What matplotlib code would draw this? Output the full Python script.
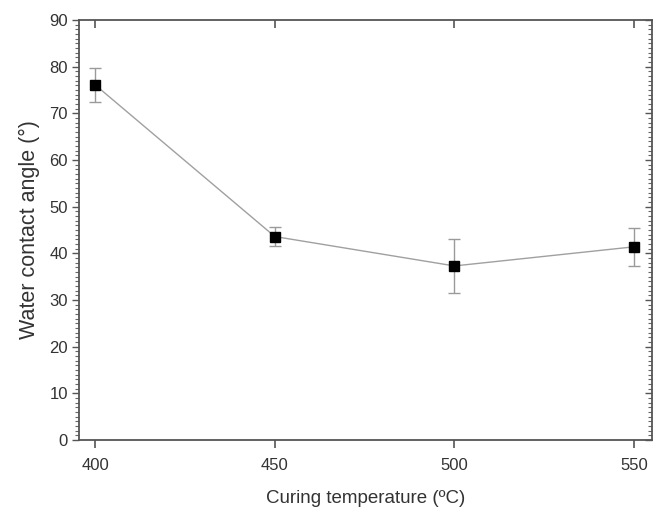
import matplotlib
matplotlib.use("Agg")
import matplotlib.pyplot as plt
from matplotlib.ticker import MultipleLocator

temperature = [400, 450, 500, 550]
contact_angle = [76.1, 43.6, 37.3, 41.4]
angle_error = [3.6, 2.0, 5.8, 4.1]
x_ticks = [400, 450, 500, 550]
y_ticks = [0, 10, 20, 30, 40, 50, 60, 70, 80, 90]

plt.rcParams['font.family'] = ['Liberation Sans', 'DejaVu Sans']

fig = plt.figure(figsize=(6.55, 5.16), dpi=100)
ax = fig.add_axes([0.1206, 0.1473, 0.8748, 0.8139])

ax.errorbar(temperature, contact_angle, yerr=angle_error, color='#a0a0a0', lw=1.0,
            ecolor='#9a9a9a', elinewidth=1.0, capsize=4, capthick=1.0,
            marker='s', markersize=7, markerfacecolor='black', markeredgecolor='black', zorder=3)

ax.set_xlim(395.5, 555)
ax.set_ylim(0, 90)
ax.set_xticks(x_ticks)
ax.set_yticks(y_ticks)
ax.yaxis.set_minor_locator(MultipleLocator(1))

for s in ax.spines.values():
    s.set_color('#555555')
    s.set_linewidth(1.3)

# bottom / left outward, top / right inward
ax.tick_params(axis='x', which='major', bottom=True, top=False, direction='out', length=6,
               width=1.2, color='#555555', labelsize=12, pad=7)
ax.tick_params(axis='y', which='major', left=True, right=False, direction='out', length=5,
               width=1.0, color='#555555', labelsize=12, pad=3)
ax.tick_params(axis='y', which='minor', left=True, right=False, direction='out', length=3,
               width=0.8, color='#666666')
ax.tick_params(axis='x', which='minor', bottom=False, top=False)

sec_x = ax.secondary_xaxis('top')
sec_x.set_xticks(x_ticks)
sec_x.tick_params(axis='x', which='major', direction='in', length=6, width=1.2,
                  color='#555555', labeltop=False)
sec_x.spines['top'].set_visible(False)

sec_y = ax.secondary_yaxis('right')
sec_y.set_yticks(y_ticks)
sec_y.yaxis.set_minor_locator(MultipleLocator(1))
sec_y.tick_params(axis='y', which='major', direction='in', length=5, width=1.0,
                  color='#555555', labelright=False)
sec_y.tick_params(axis='y', which='minor', direction='in', length=3, width=0.8,
                  color='#666666')
sec_y.spines['right'].set_visible(False)

ax.set_xlabel('Curing temperature (ºC)', fontsize=13.5, color='#333333', labelpad=12)
ax.set_ylabel('Water contact angle (°)', fontsize=15.5, color='#333333', labelpad=7)
for lbl in ax.get_xticklabels() + ax.get_yticklabels():
    lbl.set_color('#333333')

fig.savefig('out.png', dpi=100)
